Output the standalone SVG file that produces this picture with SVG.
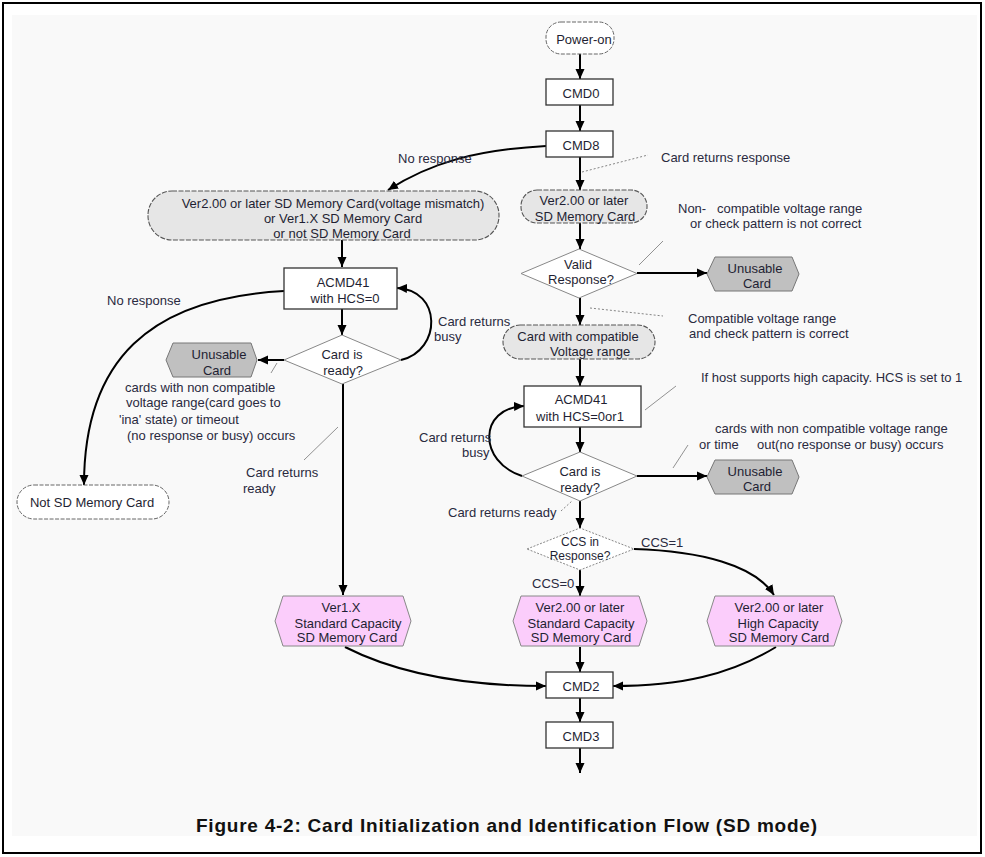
<svg xmlns="http://www.w3.org/2000/svg" width="985" height="857" viewBox="0 0 985 857">
<defs>
<marker id="ah" markerUnits="userSpaceOnUse" markerWidth="11" markerHeight="10" refX="10" refY="5" orient="auto">
<path d="M0,0.5 L10,5 L0,9.5 z" fill="#000"/>
</marker>
<style>
text{font-family:"Liberation Sans",Arial,sans-serif;font-size:13px;fill:#1f1f33}
.c{text-anchor:middle}
.ann{fill:#2a2a40}
.sm{font-size:12px}
.box{fill:#fff;stroke:#333;stroke-width:1.3}
.pillw{fill:#fff;stroke:#666;stroke-width:1;stroke-dasharray:4 1.5}
.pillg{fill:#e6e6e6;stroke:#555;stroke-width:1.1;stroke-dasharray:5 1.5}
.dia{fill:#fff;stroke:#888;stroke-width:1}
.unu{fill:#c0c0c0;stroke:#777;stroke-width:1}
.pink{fill:#fbcdfb;stroke:#888;stroke-width:1}
.ln{fill:none;stroke:#000;stroke-width:2;marker-end:url(#ah)}
.ld{fill:none;stroke:#777;stroke-width:0.8}
.ldd{fill:none;stroke:#777;stroke-width:0.9;stroke-dasharray:2 2}
.title{font-size:19px;font-weight:bold;fill:#111}
</style>
</defs>
<rect x="3" y="3" width="978" height="850" fill="#fff" stroke="#000" stroke-width="2"/>
<rect x="12" y="15" width="965" height="821" fill="#f9f9f9"/>

<g id="connectors">
<path class="ln" d="M580,54 V79"/>
<path class="ln" d="M580,105 V131"/>
<path class="ln" d="M546,146 C475,150 430,163 388,190"/>
<path class="ln" d="M580,157 V190"/>
<path class="ln" d="M580,223 V249"/>
<path class="ln" d="M637,273 H707"/>
<path class="ln" d="M580,298 V325"/>
<path class="ln" d="M580,359 V386"/>
<path class="ln" d="M580,427 V452"/>
<path class="ln" d="M522,476 C478,462 478,408 524,406"/>
<path class="ln" d="M637,476 H707"/>
<path class="ln" d="M580,501 V528"/>
<path class="ln" d="M580,570 V596"/>
<path class="ln" d="M634,549 C700,551 755,565 774,595"/>
<path class="ln" d="M342,240 V267"/>
<path class="ln" d="M342,309 V335"/>
<path class="ln" d="M401,360 C442,350 442,290 397,288"/>
<path class="ln" d="M284,360 H258"/>
<path class="ln" d="M343,384 V595"/>
<path class="ln" d="M284,291 C150,298 84,360 84,485"/>
<path class="ln" d="M345,647 C400,675 470,686 546,686"/>
<path class="ln" d="M776,647 C730,675 680,686 613,686"/>
<path class="ln" d="M580,647 V672"/>
<path class="ln" d="M580,698 V722"/>
<path class="ln" d="M580,748 V773"/>
<path class="ldd" d="M582,172 L648,155"/>
<path class="ld" d="M639,265 L663,241"/>
<path class="ldd" d="M590,308 L663,316"/>
<path class="ld" d="M645,410 L676,386"/>
<path class="ld" d="M673,468 L688,445"/>
<path class="ld" d="M277,363 L271,373"/>
<path class="ld" d="M338,427 L304,460"/>
<path class="ldd" d="M561,511 L572,501"/>
</g>

<g id="power-on">
<rect class="pillw" x="546" y="22" width="68" height="32" rx="15"/>
<text x="584" y="44" class="c">Power-on</text>
</g>
<g id="cmd0">
<rect class="box" x="546" y="79" width="67" height="26"/>
<text x="581" y="98" class="c">CMD0</text>
</g>
<g id="cmd8">
<rect class="box" x="546" y="131" width="67" height="26"/>
<text x="581" y="150" class="c">CMD8</text>
</g>
<g id="no-resp-card">
<rect class="pillg" x="148" y="191" width="351" height="49" rx="24"/>
<text x="333" y="208" class="c">Ver2.00 or later SD Memory Card(voltage mismatch)</text>
<text x="343" y="223" class="c">or Ver1.X SD Memory Card</text>
<text x="342" y="238" class="c">or not SD Memory Card</text>
</g>
<g id="ver2-card">
<rect class="pillg" x="521" y="190" width="126" height="33" rx="16"/>
<text x="584" y="205" class="c">Ver2.00 or later</text>
<text x="585" y="221" class="c">SD Memory Card</text>
</g>
<g id="valid-response">
<polygon class="dia" points="521,273.5 579,249 637,273.5 579,298"/>
<text x="578" y="269" class="c">Valid</text>
<text x="581" y="284" class="c">Response?</text>
</g>
<g id="unusable-1">
<polygon class="unu" points="715,257 792,257 799,274 792,291 715,291 707,274"/>
<text x="755" y="273" class="c">Unusable</text>
<text x="757" y="288" class="c">Card</text>
</g>
<g id="compatible-card">
<rect class="pillg" x="503" y="325" width="152" height="34" rx="17"/>
<text x="578" y="341" class="c">Card with compatible</text>
<text x="590" y="356" class="c">Voltage range</text>
</g>
<g id="acmd41-b">
<rect class="box" x="524" y="386" width="117" height="41"/>
<text x="581" y="404" class="c">ACMD41</text>
<text x="580" y="421" class="c">with HCS=0or1</text>
</g>
<g id="ready-b">
<polygon class="dia" points="522,476 580,452 637,476 580,501"/>
<text x="580" y="476" class="c">Card is</text>
<text x="580" y="492" class="c">ready?</text>
</g>
<g id="unusable-2">
<polygon class="unu" points="715,460 792,460 799,477 792,494 715,494 707,477"/>
<text x="755" y="476" class="c">Unusable</text>
<text x="757" y="491" class="c">Card</text>
</g>
<g id="ccs">
<polygon class="dia" style="stroke-dasharray:2 1.5" points="527,549 580,528 634,549 580,570"/>
<text x="580" y="546" class="c sm">CCS in</text>
<text x="580" y="560" class="c sm">Response?</text>
</g>
<g id="ver2-sc">
<polygon class="pink" points="521,596 639,596 647,621 639,646 521,646 513,621"/>
<text x="580" y="612" class="c">Ver2.00 or later</text>
<text x="581" y="628" class="c">Standard Capacity</text>
<text x="581" y="642" class="c">SD Memory Card</text>
</g>
<g id="ver2-hc">
<polygon class="pink" points="715,596 834,596 842,621 834,646 715,646 707,621"/>
<text x="779" y="612" class="c">Ver2.00 or later</text>
<text x="778" y="628" class="c">High Capacity</text>
<text x="779" y="642" class="c">SD Memory Card</text>
</g>
<g id="ver1x">
<polygon class="pink" points="283,596 403,596 411,621 403,646 283,646 275,621"/>
<text x="341" y="612" class="c">Ver1.X</text>
<text x="348" y="628" class="c">Standard Capacity</text>
<text x="347" y="642" class="c">SD Memory Card</text>
</g>
<g id="cmd2">
<rect class="box" x="546" y="672" width="67" height="26"/>
<text x="581" y="691" class="c">CMD2</text>
</g>
<g id="cmd3">
<rect class="box" x="546" y="722" width="67" height="26"/>
<text x="581" y="741" class="c">CMD3</text>
</g>
<g id="acmd41-a">
<rect class="box" x="284" y="268" width="113" height="41"/>
<text x="343" y="287" class="c">ACMD41</text>
<text x="345" y="303" class="c">with HCS=0</text>
</g>
<g id="ready-a">
<polygon class="dia" points="284,360 342,335 401,360 342,384"/>
<text x="342" y="359" class="c">Card is</text>
<text x="343" y="375" class="c">ready?</text>
</g>
<g id="unusable-0">
<polygon class="unu" points="173,343 251,343 257,360 251,377 173,377 166,360"/>
<text x="219" y="359" class="c">Unusable</text>
<text x="217" y="375" class="c">Card</text>
</g>
<g id="not-sd">
<rect class="pillw" x="17" y="485" width="152" height="34" rx="17"/>
<text x="92" y="507" class="c">Not SD Memory Card</text>
</g>

<g id="labels">
<text x="398" y="163" class="ann">No response</text>
<text x="661" y="162" class="ann">Card returns response</text>
<text x="678" y="213" class="ann">Non-<tspan x="717">compatible voltage range</tspan></text>
<text x="690" y="228" class="ann">or check pattern is not correct</text>
<text x="688" y="323" class="ann">Compatible voltage range</text>
<text x="689" y="338" class="ann">and check pattern is correct</text>
<text x="701" y="382" class="ann">If host supports high capacity. HCS is set to 1</text>
<text x="715" y="433" class="ann">cards with non compatible voltage range</text>
<text x="699" y="449" class="ann">or time<tspan x="757">out(no response or busy) occurs</tspan></text>
<text x="419" y="442" class="ann">Card returns</text>
<text x="462" y="457" class="ann">busy</text>
<text x="448" y="517" class="ann">Card returns ready</text>
<text x="641" y="547" class="ann">CCS=1</text>
<text x="532" y="588" class="ann">CCS=0</text>
<text x="107" y="305" class="ann">No response</text>
<text x="438" y="326" class="ann">Card returns</text>
<text x="434" y="341" class="ann">busy</text>
<text x="125" y="392" class="ann">cards with non compatible</text>
<text x="126" y="407" class="ann">voltage range(card goes to</text>
<text x="119" y="424" class="ann">'ina' state) or timeout</text>
<text x="127" y="440" class="ann">(no response or busy) occurs</text>
<text x="246" y="477" class="ann">Card returns</text>
<text x="243" y="493" class="ann">ready</text>
</g>
<text x="196" y="832" class="title" textLength="621">Figure 4-2: Card Initialization and Identification Flow (SD mode)</text>
</svg>
